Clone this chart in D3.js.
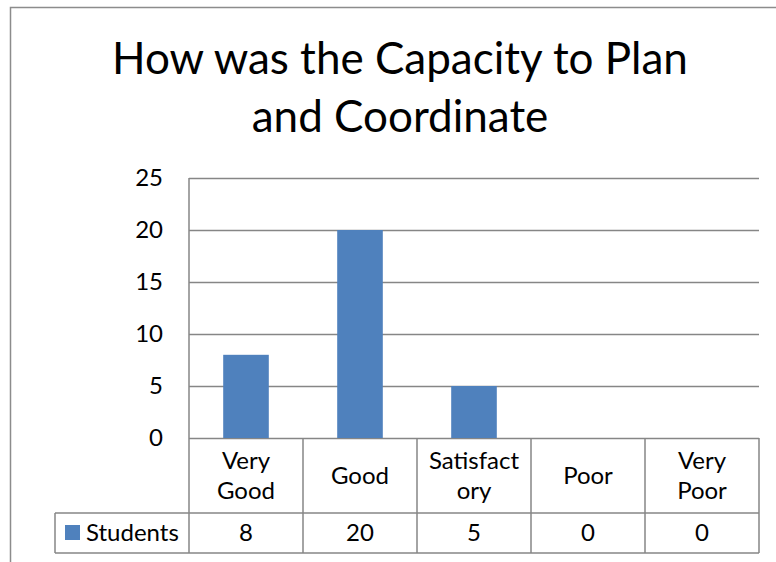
<!DOCTYPE html>
<html>
<head>
<meta charset="utf-8">
<script src="https://cdn.jsdelivr.net/npm/d3@7"></script>
<style>
  body { margin: 0; background: #fff; }
  svg text { font-family: Lato, "Open Sans", sans-serif; fill: #000; }
</style>
</head>
<body>
<div id="chart"></div>
<script>
const WIDTH = 776;
const HEIGHT = 562;

const titleLines = ['How was the Capacity to Plan', 'and Coordinate'];
const categories = ['Very Good', 'Good', 'Satisfactory', 'Poor', 'Very Poor'];
// wrapped as in the data table header
const categoryLabels = [['Very', 'Good'], ['Good'], ['Satisfact', 'ory'], ['Poor'], ['Very', 'Poor']];
const seriesName = 'Students';
const students = [8, 20, 5, 0, 0];
const yTicks = [0, 5, 10, 15, 20, 25];

const plot = { left: 189, right: 759, top: 178, bottom: 438 };
const tableHeaderBottom = 513;
const tableBottom = 553;
const legendLeft = 55;
const gridColor = '#868686';
const barColor = '#4F81BD';
const labelSize = 24;

const svg = d3.select('#chart')
    .append('svg')
    .attr('width', WIDTH)
    .attr('height', HEIGHT);

// chart border (only left and top visible in the crop)
svg.append('path')
    .attr('d', `M10.5,${HEIGHT} V7.5 H${WIDTH}`)
    .attr('fill', 'none')
    .attr('stroke', '#8c8c8c')
    .attr('stroke-width', 1.5);

// Title
svg.append('text')
    .attr('text-anchor', 'middle')
    .attr('font-size', 44)
    .selectAll('tspan')
    .data(titleLines)
    .enter()
    .append('tspan')
    .attr('x', 400)
    .attr('y', (d, i) => 74 + i * 58)
    .text(d => d);

// Scales
const yScale = d3.scaleLinear()
    .domain([0, 25])
    .range([plot.bottom, plot.top]);

const cellScale = d3.scaleBand()
    .domain(categories)
    .range([plot.left, plot.right]);

const barScale = d3.scaleBand()
    .domain(categories)
    .range([plot.left, plot.right])
    .paddingInner(0.6)
    .paddingOuter(0.3);

// Gridlines
svg.append('g')
    .selectAll('line')
    .data(yTicks)
    .enter()
    .append('line')
    .attr('x1', plot.left)
    .attr('x2', plot.right)
    .attr('y1', d => Math.round(yScale(d)) + 0.5)
    .attr('y2', d => Math.round(yScale(d)) + 0.5)
    .attr('stroke', gridColor)
    .attr('stroke-width', 1.5);

// Y labels
svg.append('g')
    .selectAll('text')
    .data(yTicks)
    .enter()
    .append('text')
    .attr('x', 163)
    .attr('y', d => yScale(d))
    .attr('dy', '0.35em')
    .attr('text-anchor', 'end')
    .attr('font-size', labelSize)
    .text(d => d);

// Bars
svg.append('g')
    .selectAll('rect')
    .data(students)
    .enter()
    .append('rect')
    .attr('x', (d, i) => barScale(categories[i]))
    .attr('width', barScale.bandwidth())
    .attr('y', d => yScale(d))
    .attr('height', d => yScale(0) - yScale(d))
    .attr('fill', barColor);

// Data table
const table = svg.append('g')
    .attr('stroke', gridColor)
    .attr('stroke-width', 1.5)
    .attr('fill', 'none');

table.append('path')
    .attr('d', `M${plot.left},${plot.top} V${tableBottom}`);
table.append('path')
    .attr('d', `M${legendLeft},${tableHeaderBottom} H${plot.right} M${legendLeft},${tableBottom} H${plot.right} M${legendLeft},${tableHeaderBottom} V${tableBottom}`);
table.selectAll('line.sep')
    .data(categories)
    .enter()
    .append('line')
    .attr('x1', d => cellScale(d) + cellScale.bandwidth())
    .attr('x2', d => cellScale(d) + cellScale.bandwidth())
    .attr('y1', plot.bottom)
    .attr('y2', tableBottom);

// Header labels
const headerMid = (plot.bottom + tableHeaderBottom) / 2;
svg.append('g')
    .selectAll('text')
    .data(categoryLabels)
    .enter()
    .append('text')
    .attr('text-anchor', 'middle')
    .attr('font-size', labelSize)
    .each(function (lines, i) {
        const cx = cellScale(categories[i]) + cellScale.bandwidth() / 2;
        d3.select(this).selectAll('tspan')
            .data(lines)
            .enter()
            .append('tspan')
            .attr('x', cx)
            .attr('y', (d, j) => headerMid + 8 + (j - (lines.length - 1) / 2) * 30)
            .text(d => d);
    });

// Value row
svg.append('g')
    .selectAll('text')
    .data(students)
    .enter()
    .append('text')
    .attr('x', (d, i) => cellScale(categories[i]) + cellScale.bandwidth() / 2)
    .attr('y', 541)
    .attr('text-anchor', 'middle')
    .attr('font-size', labelSize)
    .text(d => d);

// Legend key
svg.append('rect')
    .attr('x', 65)
    .attr('y', 525)
    .attr('width', 15)
    .attr('height', 15)
    .attr('fill', barColor);

svg.append('text')
    .attr('x', 86)
    .attr('y', 541)
    .attr('font-size', labelSize)
    .text(seriesName);
</script>
</body>
</html>
